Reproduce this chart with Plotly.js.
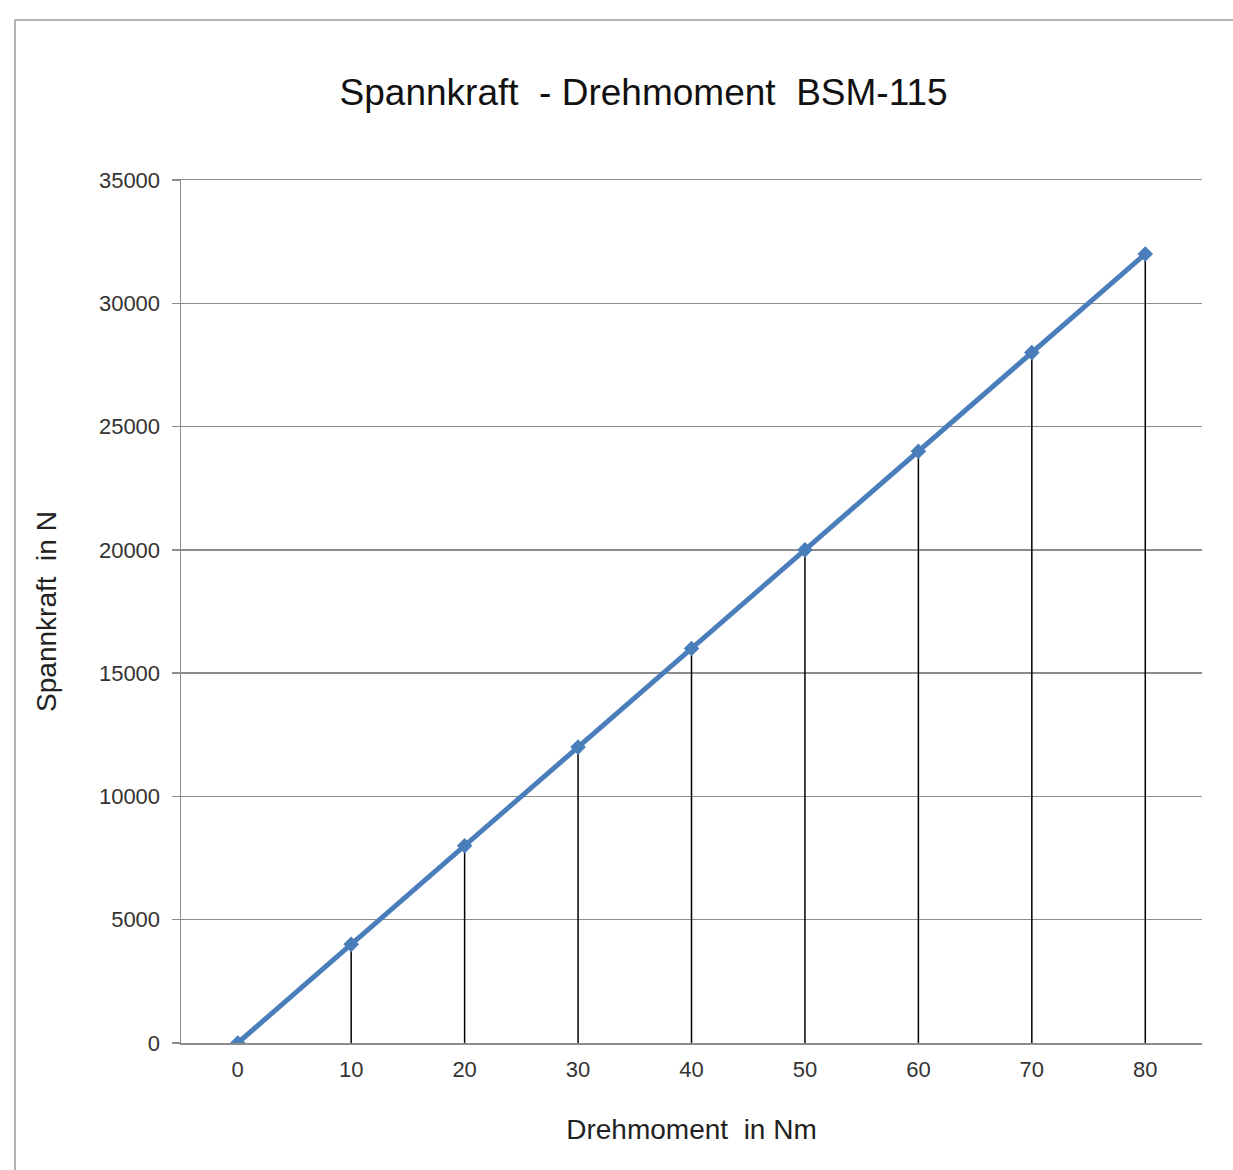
<!DOCTYPE html>
<html>
<head>
<meta charset="utf-8">
<script src="https://cdn.plot.ly/plotly-3.0.1.min.js"></script>
<style>
  html, body { margin: 0; padding: 0; background: #fff; }
  #chart { width: 1233px; height: 1170px; }
</style>
</head>
<body>
<div id="chart"></div>
<script>
// Data
var torque = ["0", "10", "20", "30", "40", "50", "60", "70", "80"];
var force = [0, 4000, 8000, 12000, 16000, 20000, 24000, 28000, 32000];
var yTicks = [0, 5000, 10000, 15000, 20000, 25000, 30000, 35000];

// Drop lines built from data
var dropX = [], dropY = [];
for (var i = 0; i < torque.length; i++) {
  dropX.push(torque[i], torque[i], null);
  dropY.push(0, force[i], null);
}

var traces = [
  {
    x: dropX, y: dropY, type: 'scatter', mode: 'lines',
    line: { color: '#000000', width: 1.5 },
    hoverinfo: 'skip', showlegend: false
  },
  {
    x: torque, y: force, type: 'scatter', mode: 'lines+markers',
    line: { color: '#4A7EBB', width: 5 },
    marker: { symbol: 'diamond', size: 12, color: '#4A7EBB' },
    showlegend: false
  }
];

var font = "'Liberation Sans', Arial, sans-serif";

var layout = {
  width: 1233, height: 1170,
  margin: { l: 181, r: 31, t: 180, b: 127 },
  paper_bgcolor: '#ffffff', plot_bgcolor: '#ffffff',
  font: { family: font, color: '#222' },
  title: {
    text: 'Spannkraft\u00a0 - Drehmoment\u00a0 BSM-115',
    font: { family: font, size: 37, color: '#111' },
    x: 0.522, xanchor: 'center', y: 0.921, yanchor: 'middle'
  },
  xaxis: {
    type: 'category',
    range: [-0.5, 8.5],
    showgrid: false,
    showline: true, linecolor: '#8c8c8c', linewidth: 1.5,
    mirror: true,
    ticks: '',
    tickfont: { family: font, size: 22, color: '#333' },
    ticklabelstandoff: 6,
    title: { text: 'Drehmoment\u00a0 in Nm', font: { family: font, size: 28, color: '#222' }, standoff: 38 },
    zeroline: false, fixedrange: true
  },
  yaxis: {
    range: [0, 35000],
    tickvals: yTicks,
    ticktext: yTicks.map(String),
    showgrid: true, gridcolor: '#8c8c8c', gridwidth: 1.5,
    showline: true, linecolor: '#8c8c8c', linewidth: 1.5,
    ticks: 'outside', ticklen: 8, tickcolor: '#8c8c8c', tickwidth: 1.5,
    tickfont: { family: font, size: 22, color: '#333' },
    ticklabelstandoff: 7,
    title: { text: 'Spannkraft\u00a0 in N', font: { family: font, size: 28, color: '#222' }, standoff: 34 },
    zeroline: false, fixedrange: true
  },
  shapes: [
    {
      type: 'rect', xref: 'paper', yref: 'paper',
      x0: (15 - 181) / 1021, x1: (1245 - 181) / 1021,
      y0: (1043 - 1185) / 863, y1: (1043 - 20) / 863,
      line: { color: '#9a9a9a', width: 1.5 }, fillcolor: 'rgba(0,0,0,0)', layer: 'below'
    }
  ]
};

Plotly.newPlot('chart', traces, layout, { displayModeBar: false, staticPlot: true });
</script>
</body>
</html>
